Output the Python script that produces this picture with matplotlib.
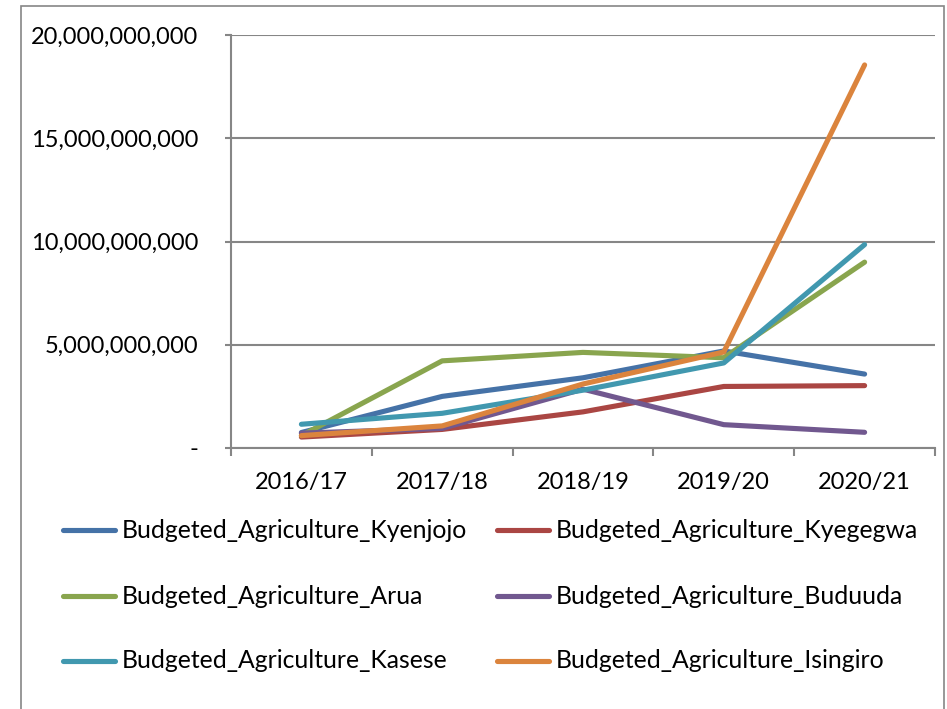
import matplotlib
matplotlib.use("Agg")
import matplotlib.pyplot as plt
from matplotlib.lines import Line2D
from matplotlib.patches import Rectangle
from matplotlib.ticker import FuncFormatter, MultipleLocator, FixedLocator

plt.rcParams['font.family'] = ['Lato', 'DejaVu Sans']

years = ["2016/17", "2017/18", "2018/19", "2019/20", "2020/21"]
series_names = [
    "Budgeted_Agriculture_Kyenjojo",
    "Budgeted_Agriculture_Kyegegwa",
    "Budgeted_Agriculture_Arua",
    "Budgeted_Agriculture_Buduuda",
    "Budgeted_Agriculture_Kasese",
    "Budgeted_Agriculture_Isingiro",
]
kyenjojo = [0.75e9, 2.50e9, 3.40e9, 4.70e9, 3.58e9]
kyegegwa = [0.53e9, 0.90e9, 1.75e9, 2.98e9, 3.02e9]
arua = [0.60e9, 4.22e9, 4.63e9, 4.37e9, 9.00e9]
buduuda = [0.72e9, 0.95e9, 2.85e9, 1.13e9, 0.76e9]
kasese = [1.15e9, 1.68e9, 2.80e9, 4.12e9, 9.85e9]
isingiro = [0.60e9, 1.07e9, 3.10e9, 4.65e9, 18.55e9]
values = [kyenjojo, kyegegwa, arua, buduuda, kasese, isingiro]
colors = ["#4572A7", "#AA4643", "#89A54E", "#71588F", "#4198AF", "#DB843D"]

W, H = 947, 709
FS = 17
LFS = 17.8
fig = plt.figure(figsize=(W / 100, H / 100), dpi=100)
ax = fig.add_axes([231 / W, (H - 448) / H, 704 / W, 413 / H])

x = list(range(len(years)))
for vals, c, name in zip(values, colors, series_names):
    ax.plot(x, vals, color=c, lw=3.7, solid_capstyle='round', solid_joinstyle='round', label=name, zorder=3)

grid_c = "#868686"
ax.set_xlim(-0.5, len(years) - 0.5)
ax.set_ylim(0, 20e9)
ax.yaxis.set_major_locator(MultipleLocator(5e9))
ax.yaxis.set_major_formatter(FuncFormatter(lambda v, p: "-" if v == 0 else f"{v:,.0f}"))
ax.grid(axis='y', color=grid_c, lw=1.5, zorder=1)
ax.set_axisbelow(True)

ax.set_xticks(x)
ax.set_xticklabels(years)
ax.xaxis.set_minor_locator(FixedLocator([i - 0.5 for i in range(len(years) + 1)]))
ax.tick_params(axis='x', which='major', length=0, pad=17, labelsize=FS)
ax.tick_params(axis='x', which='minor', length=5.8, width=1.5, color=grid_c, direction='out')
ax.tick_params(axis='y', length=4.3, width=1.5, color=grid_c, pad=19.5, labelsize=FS)

for s in ['top', 'right']:
    ax.spines[s].set_visible(False)
for s in ['left', 'bottom']:
    ax.spines[s].set_color(grid_c)
    ax.spines[s].set_linewidth(1.5)

# outer chart border
fig.add_artist(Rectangle((21 / W, -0.05), (944 - 21) / W, (H - 6) / H + 0.05,
                         transform=fig.transFigure, fill=False, edgecolor=grid_c, lw=1.2))

# legend (two columns, three rows)
col_x = [63, 497]
row_y = [530, 596, 661]
for i, (name, c) in enumerate(zip(series_names, colors)):
    r, cidx = divmod(i, 2)
    x0 = col_x[cidx]
    yy = row_y[r]
    fig.add_artist(Line2D([x0 / W, (x0 + 52) / W], [(H - yy) / H, (H - yy) / H],
                          transform=fig.transFigure, color=c, lw=3.7, solid_capstyle='round'))
    fig.text((x0 + 59) / W, (H - yy) / H, name, fontsize=LFS, va='center', ha='left')

fig.savefig("out.png", dpi=100)
